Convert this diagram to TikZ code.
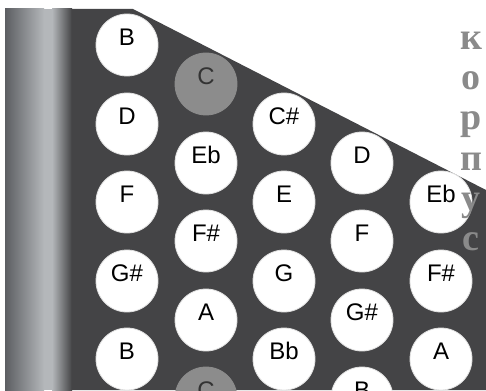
\documentclass[tikz,border=0pt]{standalone}
\usepackage{fontspec}
\newfontfamily\keyfont{Liberation Sans}
\newfontfamily\bodyfont{Liberation Serif}
\definecolor{Panel}{RGB}{68,68,70}
\definecolor{StripDark}{RGB}{92,94,98}
\definecolor{StripLight}{RGB}{180,183,186}
\definecolor{KeyGray}{RGB}{140,140,140}
\definecolor{BodyGray}{RGB}{138,138,138}

\begin{document}
\begin{tikzpicture}[x=1pt,y=-1pt,
key/.style={circle,fill=white,draw=black!12,line width=0.8pt,minimum size=62pt,inner sep=0pt,font=\keyfont\fontsize{24}{24}\selectfont,text height=17pt,text depth=16pt},
ckey/.style={key,fill=KeyGray,draw=KeyGray,text=black!80},
lbl/.style={font=\bodyfont\bfseries\fontsize{38}{38}\selectfont,text=BodyGray,anchor=base,inner sep=0pt}]

\useasboundingbox (0,0) rectangle (486,390);
\clip (0,0) rectangle (486,390);
\fill[white] (0,0) rectangle (486,390);

% bellows edge and keyboard panel
\shade[left color=StripDark,right color=StripLight] (5,9) rectangle (44,390);
\fill[StripLight] (44,9) rectangle (52,390);
\shade[left color=StripLight,right color=Panel] (52,9) rectangle (72,390);
\fill[Panel] (71.5,9) -- (133,9) -- (486,190) -- (486,390) -- (71.5,390) -- cycle;

% first row
\node[key] (b1) at (127,45) {B};
\node[key] (d1) at (127,124) {D};
\node[key] (f1) at (127,202) {F};
\node[key] (gs1) at (127,281) {G\#};
\node[key] (b2) at (127,359) {B};

% second row
\node[ckey] (c1) at (206,84) {C};
\node[key] (eb1) at (206,163) {Eb};
\node[key] (fs1) at (206,241) {F\#};
\node[key] (a1) at (206,320) {A};
\node[ckey] (c2) at (206,398) {C};

% third row
\node[key] (cs1) at (284,124) {C\#};
\node[key] (e1) at (284,202) {E};
\node[key] (g1) at (284,281) {G};
\node[key] (bb1) at (284,359) {Bb};

% fourth row
\node[key] (d2) at (362,163) {D};
\node[key] (f2) at (362,241) {F};
\node[key] (gs2) at (362,320) {G\#};
\node[key] (b3) at (362,398) {B};

% fifth row
\node[key] (eb2) at (441,202) {Eb};
\node[key] (fs2) at (441,281) {F\#};
\node[key] (a2) at (441,359) {A};

% side label
\node[lbl] (k) at (471,50) {к};
\node[lbl] (o) at (471,90) {о};
\node[lbl] (r) at (471,130) {р};
\node[lbl] (p) at (471,170) {п};
\node[lbl] (u) at (471,210) {у};
\node[lbl] (s) at (471,250) {с};

\end{tikzpicture}
\end{document}
